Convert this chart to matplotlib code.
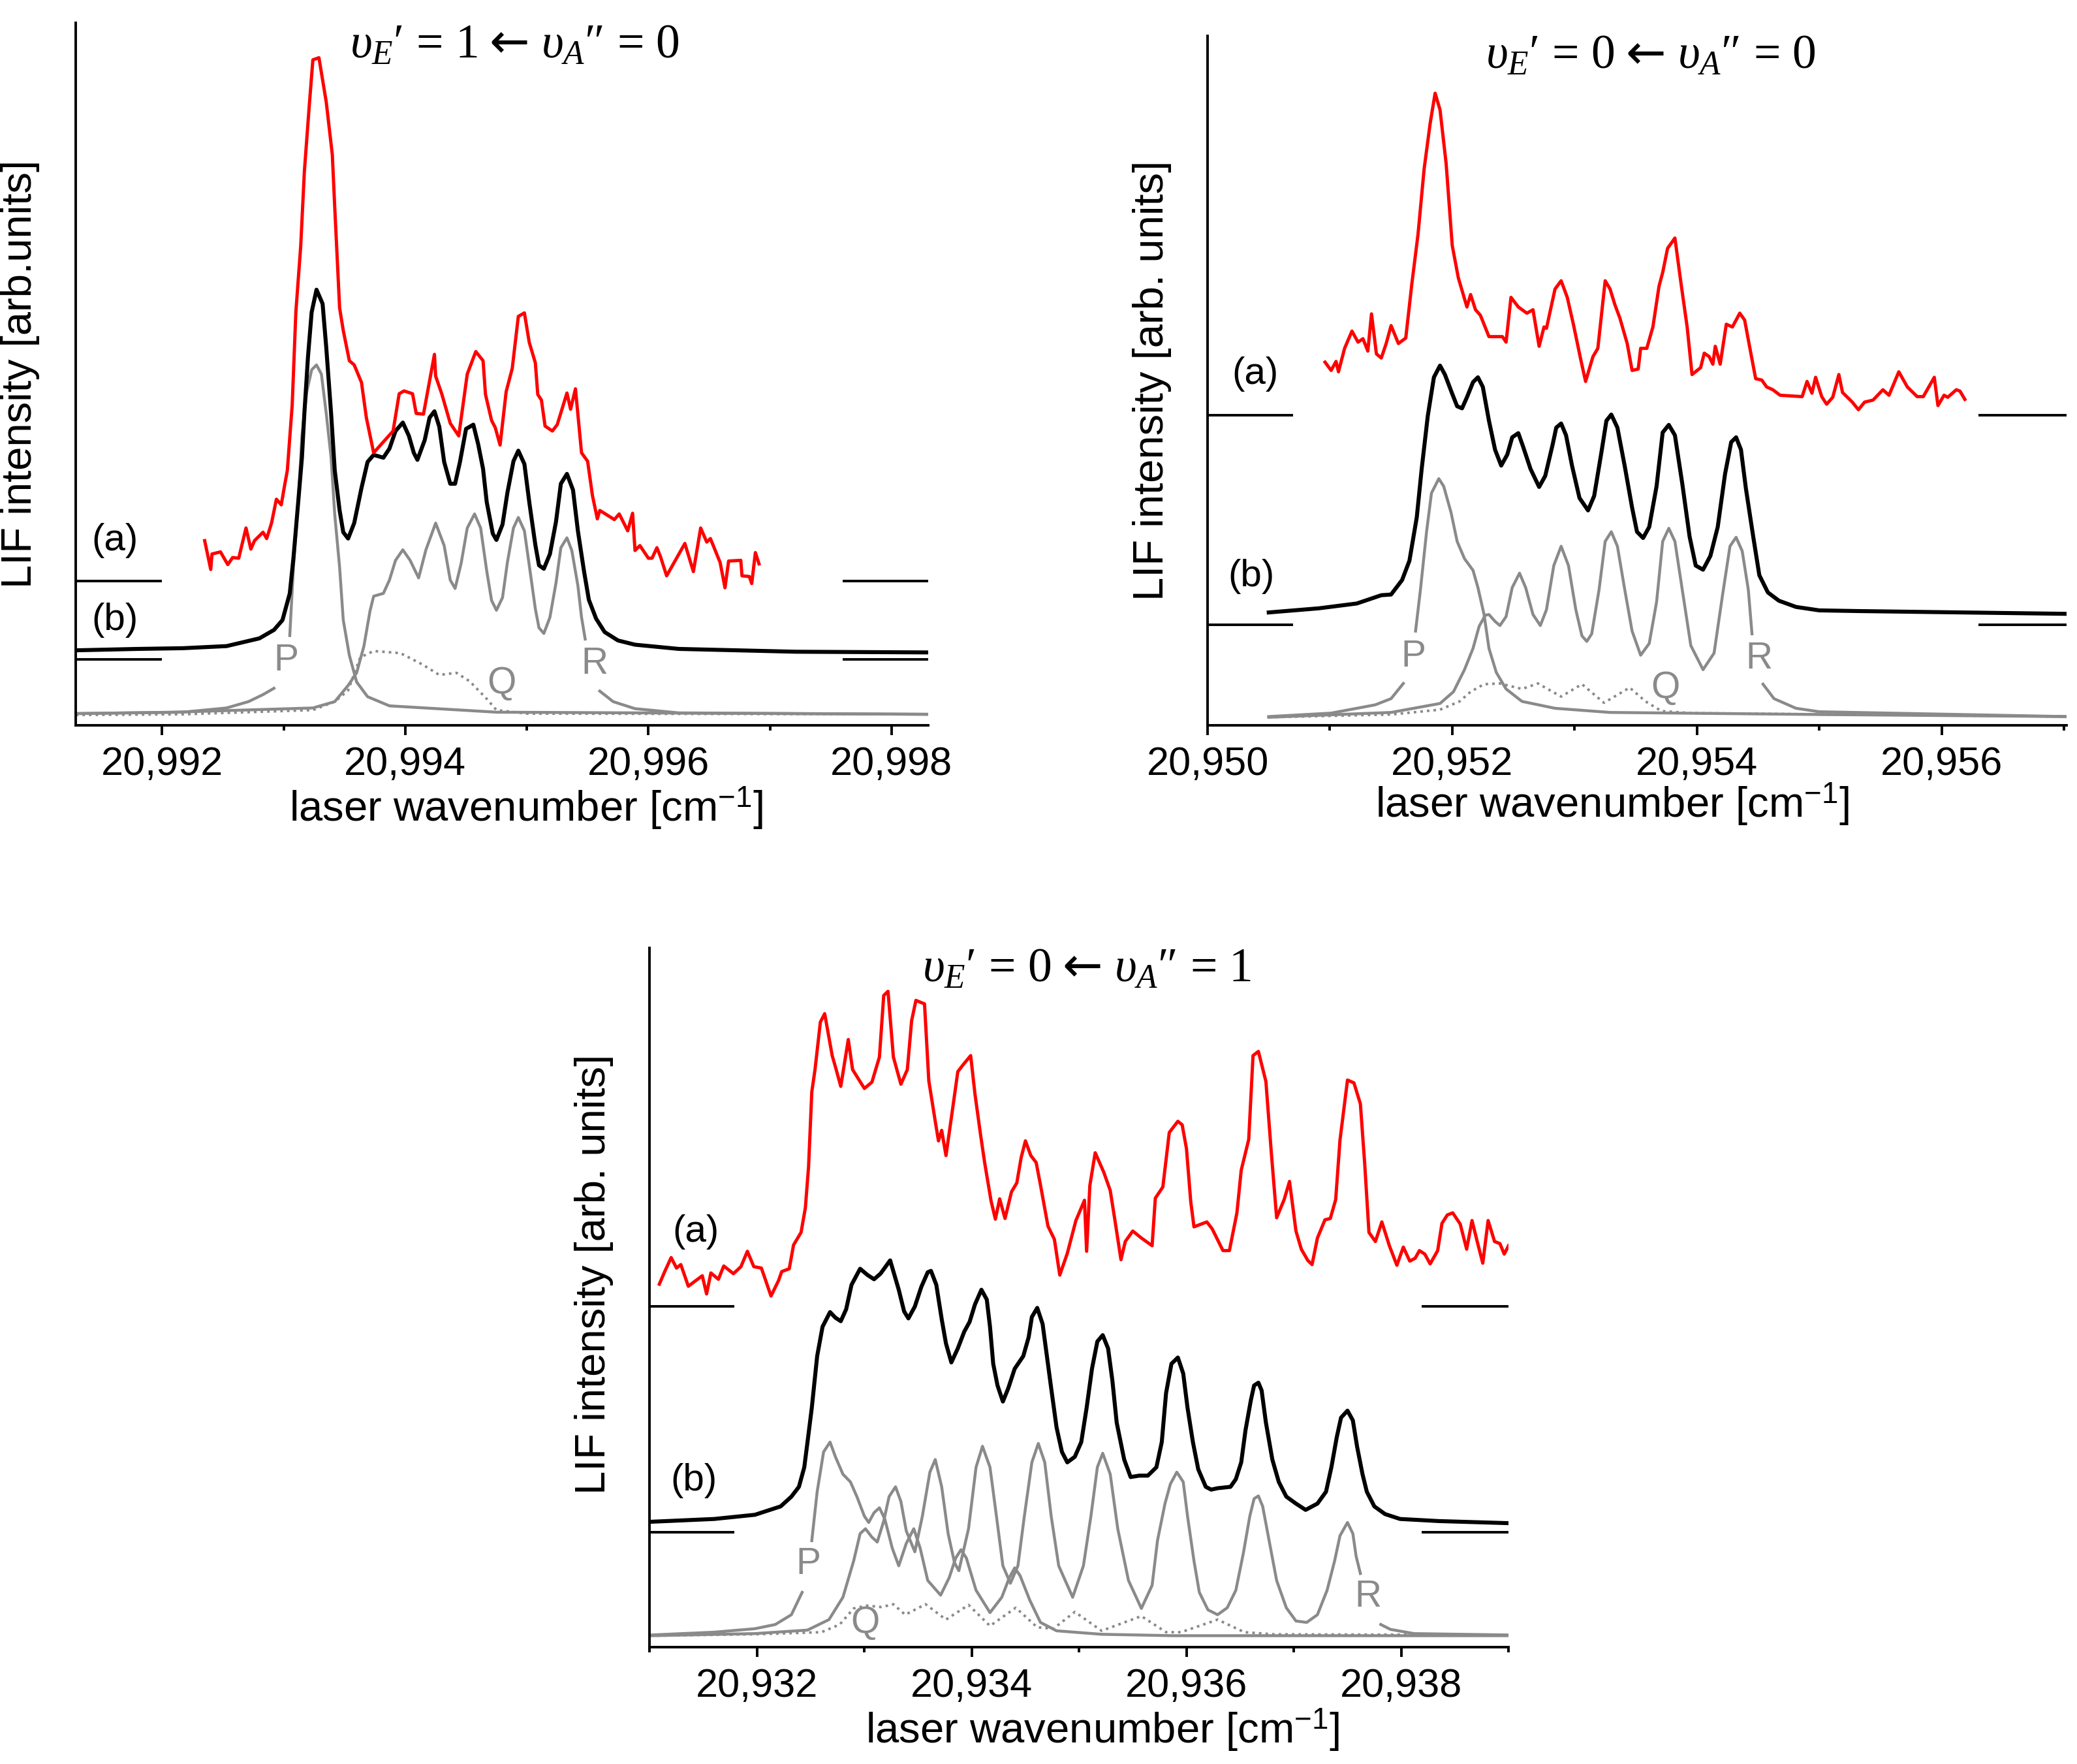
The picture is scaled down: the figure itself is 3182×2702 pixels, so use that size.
import numpy as np
import matplotlib
matplotlib.use("Agg")
import matplotlib.pyplot as plt

plt.rcParams['font.family'] = ['Liberation Sans', 'DejaVu Sans']
plt.rcParams['mathtext.fontset'] = 'custom'
plt.rcParams['mathtext.rm'] = 'Liberation Serif'
plt.rcParams['mathtext.it'] = 'Liberation Serif:italic'
plt.rcParams['mathtext.sf'] = 'Liberation Sans'

nan = np.nan

# ---------------- Panel 1 : vE'=1 <- vA''=0 ----------------
p1_title = ("$\\mathit{υ}_{\\mathit{E}}$\u2032 = 1", "$\\mathit{υ}_{\\mathit{A}}$\u2033 = 0")
p1_xlim = (20991.29, 20998.30)
p1_major = [20992, 20994, 20996, 20998]
p1_major_labels = ["20,992", "20,994", "20,996", "20,998"]
p1_minor = [20993, 20995, 20997]
p1_base_a = 20.6
p1_base_b = 9.4
p1_seg_x = [(20991.29, 20992.0), (20997.6, 20998.30)]

p1_red_x = [20992.35, 20992.40, 20992.41, 20992.48, 20992.54, 20992.58, 20992.63, 20992.69, 20992.73,
            20992.76, 20992.83, 20992.86, 20992.90, 20992.94, 20992.98, 20993.01, 20993.03, 20993.07,
            20993.10, 20993.14, 20993.17, 20993.21, 20993.24, 20993.29, 20993.35, 20993.40, 20993.42,
            20993.46, 20993.49, 20993.54, 20993.58, 20993.64, 20993.68, 20993.74, 20993.90, 20993.95,
            20993.99, 20994.06, 20994.09, 20994.15, 20994.24, 20994.25, 20994.30, 20994.37, 20994.44,
            20994.51, 20994.58, 20994.64, 20994.66, 20994.71, 20994.74, 20994.78, 20994.83, 20994.88,
            20994.93, 20994.98, 20995.02, 20995.07, 20995.09, 20995.12, 20995.15, 20995.21, 20995.25,
            20995.33, 20995.36, 20995.40, 20995.45, 20995.50, 20995.54, 20995.58, 20995.60, 20995.72,
            20995.76, 20995.83, 20995.87, 20995.89, 20995.93, 20996.00, 20996.03, 20996.07, 20996.10,
            20996.15, 20996.30, 20996.37, 20996.43, 20996.48, 20996.51, 20996.59, 20996.63, 20996.66,
            20996.76, 20996.77, 20996.83, 20996.85, 20996.88, 20996.91]
p1_red_y = [26.3, 22.2, 24.4, 24.7, 22.9, 23.9, 23.8, 28.1, 25.1,
            26.3, 27.5, 26.6, 28.8, 32.2, 31.4, 34.4, 36.3, 45.6,
            58.8, 68.2, 78.8, 88.1, 94.7, 95.0, 88.7, 81.2, 73.7,
            59.4, 56.2, 51.9, 51.3, 48.8, 43.8, 38.8, 41.9, 47.2,
            47.6, 47.2, 44.4, 44.3, 52.8, 49.7, 47.2, 43.0, 41.2,
            50.0, 53.2, 51.9, 47.1, 43.4, 42.4, 39.9, 47.5, 50.8,
            58.2, 58.7, 54.5, 51.6, 47.1, 46.3, 42.6, 41.9, 42.8,
            47.3, 45.0, 47.9, 38.8, 37.6, 32.7, 29.4, 30.6, 29.3,
            30.1, 27.7, 30.2, 24.9, 25.6, 23.8, 23.8, 25.3, 24.0,
            21.3, 25.9, 21.9, 28.1, 26.1, 26.6, 23.2, 19.6, 23.4,
            23.5, 21.3, 21.2, 20.2, 24.6, 23.0]

p1_black_x = [20991.29, 20991.80, 20992.17, 20992.53, 20992.80, 20992.92, 20992.99, 20993.05, 20993.08,
              20993.12, 20993.15, 20993.17, 20993.20, 20993.23, 20993.27, 20993.32, 20993.35, 20993.39,
              20993.42, 20993.46, 20993.49, 20993.53, 20993.58, 20993.64, 20993.69, 20993.74, 20993.82,
              20993.87, 20993.92, 20993.98, 20994.03, 20994.07, 20994.10, 20994.16, 20994.20, 20994.24,
              20994.28, 20994.32, 20994.37, 20994.41, 20994.45, 20994.50, 20994.56, 20994.60, 20994.64,
              20994.67, 20994.72, 20994.75, 20994.80, 20994.84, 20994.89, 20994.93, 20994.98, 20995.02,
              20995.07, 20995.10, 20995.14, 20995.19, 20995.24, 20995.28, 20995.33, 20995.38, 20995.42,
              20995.47, 20995.51, 20995.57, 20995.64, 20995.75, 20995.89, 20996.25, 20997.21, 20998.30]
p1_black_y = [10.7, 10.9, 11.0, 11.3, 12.4, 13.6, 15.0, 18.8, 23.8,
              31.9, 38.1, 44.4, 52.5, 58.8, 62.0, 60.0, 53.8, 44.4,
              36.3, 30.6, 27.5, 26.6, 28.8, 33.8, 37.5, 38.5, 38.1,
              39.4, 41.9, 43.1, 41.2, 38.8, 37.8, 40.6, 43.8, 44.7,
              42.5, 37.5, 34.4, 34.4, 37.5, 42.2, 42.8, 40.0, 36.5,
              31.8, 27.3, 26.4, 28.6, 33.1, 37.6, 39.1, 37.2, 31.8,
              25.7, 22.8, 22.3, 24.4, 29.0, 34.4, 35.8, 33.5, 27.7,
              22.0, 17.9, 15.2, 13.3, 12.1, 11.5, 10.9, 10.5, 10.4]

p1_P_x = [20991.29, 20992.17, 20992.53, 20992.71, 20992.83, 20992.92, nan,
          20993.05, 20993.08, 20993.12, 20993.15, 20993.19, 20993.23, 20993.27, 20993.31, 20993.35,
          20993.39, 20993.42, 20993.46, 20993.49, 20993.54, 20993.60, 20993.69, 20993.87, 20994.75,
          20998.30]
p1_P_y = [1.7, 1.9, 2.5, 3.4, 4.4, 5.3, nan,
          12.8, 22.5, 31.9, 41.2, 47.5, 50.6, 51.3, 50.0, 44.4,
          38.1, 30.0, 22.5, 15.0, 10.0, 6.2, 4.1, 2.8, 1.9,
          1.6]

p1_R_x = [20991.29, 20992.10, 20993.24, 20993.42, 20993.53, 20993.60, 20993.66, 20993.71, 20993.74,
          20993.82, 20993.87, 20993.92, 20993.98, 20994.04, 20994.11, 20994.17, 20994.25, 20994.32,
          20994.37, 20994.41, 20994.46, 20994.51, 20994.57, 20994.62, 20994.67, 20994.71, 20994.75,
          20994.80, 20994.84, 20994.89, 20994.93, 20994.98, 20995.02, 20995.07, 20995.10, 20995.14,
          20995.19, 20995.24, 20995.28, 20995.33, 20995.37, 20995.42, 20995.45, 20995.48, nan,
          20995.60, 20995.71, 20995.89, 20996.25, 20998.30]
p1_R_y = [1.7, 1.9, 2.5, 3.4, 5.7, 7.5, 11.3, 16.3, 18.4,
          18.8, 20.7, 23.5, 25.0, 23.5, 21.0, 25.0, 28.8, 25.6,
          20.7, 19.5, 23.1, 28.1, 30.1, 28.1, 22.0, 17.8, 16.4,
          18.2, 23.2, 28.1, 29.6, 27.7, 22.8, 16.6, 13.9, 13.1,
          15.4, 20.3, 25.3, 26.7, 24.9, 19.9, 15.4, 12.3, nan,
          4.9, 3.4, 2.4, 1.8, 1.6]

p1_Q_x = [20991.29, 20992.17, 20993.24, 20993.42, 20993.53, 20993.63, 20993.74, 20993.96, 20994.14,
          20994.28, 20994.42, 20994.53, 20994.67, 20994.75, 20995.00, 20998.30]
p1_Q_y = [1.5, 1.6, 2.2, 3.4, 5.0, 9.7, 10.6, 10.3, 8.7,
          7.2, 7.5, 6.3, 3.8, 2.2, 1.7, 1.6]

p1_lab_ab = [("(a)", 20991.61, 26.3), ("(b)", 20991.61, 15.0)]
p1_lab_pqr = [("P", 20993.02, 9.2), ("Q", 20994.79, 6.0), ("R", 20995.56, 8.8)]

# ---------------- Panel 2 : vE'=0 <- vA''=0 ----------------
p2_title = ("$\\mathit{υ}_{\\mathit{E}}$\u2032 = 0", "$\\mathit{υ}_{\\mathit{A}}$\u2033 = 0")
p2_xlim = (20950.0, 20957.02)
p2_major = [20950, 20952, 20954, 20956]
p2_major_labels = ["20,950", "20,952", "20,954", "20,956"]
p2_minor = [20951, 20953, 20955, 20957]
p2_base_a = 45.0
p2_base_b = 14.6
p2_seg_x = [(20950.0, 20950.70), (20956.30, 20957.02)]

p2_red_x = [20950.96, 20951.01, 20951.05, 20951.07, 20951.12, 20951.18, 20951.23, 20951.27, 20951.31,
            20951.34, 20951.38, 20951.42, 20951.46, 20951.50, 20951.56, 20951.62, 20951.67, 20951.72,
            20951.77, 20951.82, 20951.86, 20951.90, 20951.95, 20952.00, 20952.05, 20952.12, 20952.15,
            20952.19, 20952.23, 20952.30, 20952.41, 20952.44, 20952.48, 20952.54, 20952.61, 20952.66,
            20952.71, 20952.75, 20952.77, 20952.84, 20952.89, 20952.94, 20952.99, 20953.05, 20953.09,
            20953.15, 20953.19, 20953.25, 20953.29, 20953.33, 20953.37, 20953.43, 20953.47, 20953.52,
            20953.54, 20953.59, 20953.64, 20953.69, 20953.72, 20953.76, 20953.82, 20953.87, 20953.92,
            20953.96, 20954.03, 20954.06, 20954.10, 20954.13, 20954.15, 20954.19, 20954.24, 20954.29,
            20954.35, 20954.39, 20954.43, 20954.48, 20954.53, 20954.57, 20954.62, 20954.68, 20954.86,
            20954.90, 20954.94, 20954.97, 20955.02, 20955.06, 20955.11, 20955.16, 20955.19, 20955.27,
            20955.32, 20955.37, 20955.44, 20955.52, 20955.57, 20955.65, 20955.72, 20955.80, 20955.85,
            20955.94, 20955.97, 20956.02, 20956.05, 20956.12, 20956.15, 20956.19]
p2_red_y = [52.7, 51.5, 52.8, 51.3, 54.7, 57.2, 55.6, 56.1, 54.3,
            59.7, 53.9, 53.3, 55.4, 58.0, 55.4, 56.2, 64.1, 71.2,
            80.7, 87.4, 91.7, 89.3, 81.5, 69.6, 64.9, 60.7, 62.5,
            60.3, 59.5, 56.4, 56.4, 55.6, 62.1, 60.7, 59.8, 60.3,
            55.0, 57.8, 57.6, 63.3, 64.5, 62.1, 58.2, 53.1, 49.9,
            53.5, 54.7, 64.5, 63.3, 61.0, 59.1, 55.4, 51.5, 51.7,
            54.7, 54.7, 57.8, 63.7, 65.7, 69.2, 70.7, 64.1, 57.8,
            50.9, 51.9, 54.0, 53.5, 52.4, 55.0, 52.4, 58.2, 57.8,
            59.8, 58.8, 55.0, 50.3, 50.1, 49.1, 48.7, 47.9, 47.7,
            49.9, 48.2, 50.5, 47.7, 46.6, 47.6, 50.9, 48.3, 46.9,
            45.8, 46.9, 47.2, 48.7, 47.9, 51.3, 49.1, 47.7, 47.7,
            50.5, 46.4, 47.9, 47.6, 48.7, 48.5, 47.3]

p2_black_x = [20950.50, 20950.91, 20951.22, 20951.42, 20951.50, 20951.59, 20951.65, 20951.71, 20951.75,
              20951.80, 20951.85, 20951.90, 20951.94, 20952.00, 20952.04, 20952.08, 20952.12, 20952.17,
              20952.21, 20952.25, 20952.30, 20952.35, 20952.40, 20952.45, 20952.49, 20952.54, 20952.58,
              20952.64, 20952.71, 20952.76, 20952.82, 20952.85, 20952.89, 20952.93, 20952.98, 20953.04,
              20953.11, 20953.16, 20953.22, 20953.26, 20953.30, 20953.35, 20953.41, 20953.47, 20953.51,
              20953.56, 20953.61, 20953.67, 20953.72, 20953.77, 20953.82, 20953.88, 20953.94, 20953.99,
              20954.05, 20954.11, 20954.17, 20954.23, 20954.28, 20954.32, 20954.36, 20954.40, 20954.46,
              20954.51, 20954.58, 20954.67, 20954.81, 20955.00, 20955.32, 20957.02]
p2_black_y = [16.4, 17.0, 17.7, 18.9, 19.0, 21.1, 23.9, 30.2, 37.2,
              44.9, 50.5, 52.2, 50.9, 48.1, 46.3, 46.0, 47.6, 49.8,
              50.5, 49.1, 44.2, 40.0, 37.7, 39.3, 41.8, 42.4, 40.4,
              37.2, 34.6, 36.2, 40.7, 43.2, 43.8, 42.1, 37.6, 33.0,
              31.2, 33.3, 39.7, 44.2, 45.1, 43.2, 37.6, 31.6, 28.1,
              27.2, 28.8, 34.7, 42.5, 43.6, 42.1, 35.1, 27.4, 23.2,
              22.6, 24.6, 28.8, 36.5, 41.1, 41.8, 40.0, 34.4, 27.4,
              21.8, 19.3, 18.1, 17.2, 16.7, 16.6, 16.2]

p2_P_x = [20950.50, 20951.01, 20951.37, 20951.50, 20951.60, nan,
          20951.70, 20951.74, 20951.79, 20951.83, 20951.89, 20951.93, 20951.99, 20952.04, 20952.10,
          20952.17, 20952.21, 20952.26, 20952.30, 20952.36, 20952.44, 20952.57, 20952.84, 20953.29,
          20955.00, 20957.02]
p2_P_y = [1.3, 1.8, 3.0, 3.9, 6.1, nan,
          13.7, 19.7, 28.1, 33.7, 35.8, 34.7, 30.9, 26.7, 24.2,
          22.5, 20.0, 16.1, 11.2, 7.7, 5.3, 3.5, 2.5, 1.9,
          1.6, 1.3]

p2_R_x = [20950.50, 20951.50, 20951.90, 20952.01, 20952.10, 20952.17, 20952.22, 20952.27, 20952.30,
          20952.35, 20952.39, 20952.44, 20952.49, 20952.55, 20952.60, 20952.66, 20952.72, 20952.77,
          20952.83, 20952.89, 20952.95, 20953.01, 20953.06, 20953.10, 20953.14, 20953.20, 20953.25,
          20953.30, 20953.35, 20953.41, 20953.47, 20953.54, 20953.61, 20953.67, 20953.72, 20953.77,
          20953.82, 20953.88, 20953.95, 20954.05, 20954.14, 20954.21, 20954.27, 20954.32, 20954.37,
          20954.42, 20954.45, nan, 20954.54, 20954.63, 20954.81, 20955.00, 20957.02]
p2_R_y = [1.2, 1.9, 3.2, 4.9, 8.1, 11.2, 14.4, 16.0, 16.1,
          15.1, 14.5, 15.8, 20.0, 22.1, 20.0, 16.1, 14.5, 16.8,
          23.2, 26.0, 23.2, 16.8, 13.0, 12.2, 13.3, 19.7, 26.7,
          28.1, 26.0, 19.7, 13.7, 10.2, 11.9, 17.9, 26.7, 28.6,
          26.7, 19.7, 11.6, 8.1, 10.5, 19.0, 26.0, 27.3, 25.3,
          19.7, 13.3, nan, 6.0, 3.9, 2.5, 2.0, 1.3]

p2_Q_x = [20950.50, 20951.50, 20951.90, 20952.06, 20952.15, 20952.26, 20952.39, 20952.57, 20952.70,
          20952.89, 20953.06, 20953.24, 20953.45, 20953.58, 20953.71, 20953.96, 20957.02]
p2_Q_y = [1.2, 1.6, 2.3, 3.5, 4.9, 6.0, 6.1, 5.3, 6.1,
          4.2, 6.0, 3.3, 5.5, 3.5, 2.1, 1.8, 1.3]

p2_lab_ab = [("(a)", 20950.39, 51.0), ("(b)", 20950.36, 21.6)]
p2_lab_pqr = [("P", 20951.68, 10.0), ("Q", 20953.74, 5.4), ("R", 20954.51, 9.7)]

# ---------------- Panel 3 : vE'=0 <- vA''=1 ----------------
p3_title = ("$\\mathit{υ}_{\\mathit{E}}$\u2032 = 0", "$\\mathit{υ}_{\\mathit{A}}$\u2033 = 1")
p3_xlim = (20931.0, 20939.0)
p3_major = [20932, 20934, 20936, 20938]
p3_major_labels = ["20,932", "20,934", "20,936", "20,938"]
p3_minor = [20931, 20933, 20935, 20937, 20939]
p3_base_a = 48.7
p3_base_b = 16.4
p3_seg_x = [(20931.0, 20931.79), (20938.19, 20939.0)]

p3_red_x = [20931.09, 20931.14, 20931.20, 20931.25, 20931.29, 20931.36, 20931.42, 20931.49, 20931.53,
            20931.57, 20931.64, 20931.69, 20931.78, 20931.85, 20931.91, 20931.97, 20932.04, 20932.07,
            20932.13, 20932.20, 20932.23, 20932.30, 20932.34, 20932.41, 20932.45, 20932.48, 20932.51,
            20932.54, 20932.59, 20932.63, 20932.70, 20932.73, 20932.78, 20932.85, 20932.89, 20933.00,
            20933.07, 20933.14, 20933.18, 20933.22, 20933.27, 20933.34, 20933.40, 20933.44, 20933.48,
            20933.56, 20933.60, 20933.66, 20933.69, 20933.72, 20933.76, 20933.82, 20933.87, 20933.92,
            20933.99, 20934.03, 20934.08, 20934.12, 20934.18, 20934.22, 20934.26, 20934.31, 20934.37,
            20934.42, 20934.46, 20934.50, 20934.55, 20934.60, 20934.64, 20934.71, 20934.77, 20934.82,
            20934.89, 20934.97, 20935.05, 20935.07, 20935.10, 20935.15, 20935.23, 20935.29, 20935.33,
            20935.39, 20935.43, 20935.50, 20935.58, 20935.68, 20935.71, 20935.78, 20935.84, 20935.92,
            20935.96, 20936.00, 20936.04, 20936.07, 20936.19, 20936.24, 20936.34, 20936.40, 20936.47,
            20936.51, 20936.58, 20936.62, 20936.67, 20936.74, 20936.79, 20936.84, 20936.91, 20936.96,
            20937.02, 20937.07, 20937.13, 20937.17, 20937.22, 20937.29, 20937.34, 20937.39, 20937.43,
            20937.50, 20937.56, 20937.62, 20937.66, 20937.70, 20937.76, 20937.82, 20937.89, 20937.96,
            20938.02, 20938.08, 20938.13, 20938.17, 20938.22, 20938.27, 20938.34, 20938.38, 20938.43,
            20938.48, 20938.55, 20938.61, 20938.66, 20938.71, 20938.76, 20938.81, 20938.87, 20938.92,
            20938.96, 20939.00]
p3_red_y = [51.9, 53.7, 55.7, 54.2, 54.7, 51.6, 52.3, 53.1, 50.5,
            53.5, 52.6, 54.5, 53.4, 54.4, 56.6, 54.4, 54.2, 52.9,
            50.2, 52.4, 53.7, 54.1, 57.5, 59.3, 62.8, 68.7, 79.4,
            82.6, 89.4, 90.6, 84.6, 83.0, 80.2, 86.9, 82.6, 79.9,
            80.8, 84.4, 93.2, 93.8, 84.4, 80.5, 82.6, 89.6, 92.5,
            92.0, 81.0, 75.2, 72.4, 73.9, 70.3, 76.8, 82.3, 83.3,
            84.6, 79.1, 73.5, 69.3, 63.8, 61.2, 64.1, 61.3, 65.1,
            66.4, 70.0, 72.4, 70.3, 69.3, 66.1, 60.2, 58.3, 53.2,
            56.3, 61.0, 63.9, 56.6, 66.0, 70.7, 67.9, 65.3, 61.4,
            55.4, 58.0, 59.5, 58.5, 57.4, 64.2, 65.8, 73.6, 75.2,
            74.7, 71.3, 63.7, 60.1, 60.8, 59.8, 56.7, 56.7, 62.1,
            68.2, 72.6, 84.6, 85.2, 80.9, 70.8, 61.4, 64.0, 66.6,
            59.5, 56.9, 55.3, 54.7, 58.5, 61.1, 61.3, 64.0, 72.5,
            81.1, 80.7, 77.7, 69.2, 59.3, 58.0, 60.8, 57.4, 54.6,
            57.2, 55.2, 55.6, 56.7, 56.2, 54.8, 56.7, 60.6, 61.8,
            62.1, 60.5, 56.9, 61.0, 57.9, 54.9, 61.0, 58.0, 57.7,
            56.2, 57.4]

p3_black_x = [20931.01, 20931.60, 20931.98, 20932.12, 20932.22, 20932.32, 20932.39, 20932.44, 20932.47,
              20932.51, 20932.56, 20932.61, 20932.68, 20932.73, 20932.78, 20932.83, 20932.88, 20932.96,
              20933.03, 20933.09, 20933.15, 20933.24, 20933.32, 20933.37, 20933.41, 20933.47, 20933.53,
              20933.59, 20933.62, 20933.67, 20933.72, 20933.76, 20933.81, 20933.87, 20933.93, 20933.98,
              20934.03, 20934.09, 20934.14, 20934.17, 20934.20, 20934.24, 20934.29, 20934.34, 20934.40,
              20934.48, 20934.53, 20934.56, 20934.61, 20934.66, 20934.70, 20934.74, 20934.79, 20934.84,
              20934.89, 20934.96, 20935.02, 20935.07, 20935.12, 20935.17, 20935.22, 20935.27, 20935.31,
              20935.35, 20935.42, 20935.48, 20935.56, 20935.64, 20935.72, 20935.77, 20935.81, 20935.86,
              20935.92, 20935.97, 20936.01, 20936.06, 20936.11, 20936.18, 20936.23, 20936.29, 20936.41,
              20936.46, 20936.51, 20936.55, 20936.60, 20936.63, 20936.67, 20936.70, 20936.74, 20936.80,
              20936.86, 20936.93, 20937.02, 20937.11, 20937.22, 20937.30, 20937.35, 20937.40, 20937.44,
              20937.50, 20937.55, 20937.59, 20937.64, 20937.68, 20937.75, 20937.85, 20937.99, 20938.35,
              20939.00]
p3_black_y = [17.9, 18.3, 18.9, 19.6, 20.1, 21.5, 22.9, 25.7, 29.3,
              34.2, 41.6, 45.8, 47.9, 47.1, 46.6, 48.3, 51.8, 54.1,
              53.2, 52.6, 53.4, 55.3, 51.1, 48.0, 47.0, 48.7, 51.5,
              53.6, 53.8, 51.8, 46.9, 43.4, 40.7, 42.7, 45.1, 46.5,
              49.0, 51.1, 49.7, 45.8, 40.5, 37.4, 35.1, 37.0, 39.8,
              41.6, 44.3, 47.2, 48.5, 46.2, 41.6, 37.0, 31.4, 27.9,
              26.4, 27.2, 29.3, 34.2, 39.8, 43.7, 44.6, 42.7, 38.1,
              32.1, 26.8, 24.3, 24.5, 24.5, 25.7, 29.3, 36.3, 40.5,
              41.4, 39.1, 34.2, 29.3, 25.4, 22.9, 22.5, 22.7, 22.9,
              24.0, 26.4, 31.0, 35.3, 37.4, 37.8, 36.7, 32.1, 26.8,
              23.6, 21.5, 20.5, 19.6, 20.5, 22.2, 25.7, 30.0, 32.8,
              33.8, 32.4, 28.6, 24.7, 22.2, 20.1, 19.0, 18.3, 18.0,
              17.7]

p3_P_x = [20931.01, 20931.60, 20931.98, 20932.17, 20932.32, 20932.42, nan,
          20932.51, 20932.56, 20932.62, 20932.68, 20932.73, 20932.80, 20932.87, 20932.93, 20933.00,
          20933.04, 20933.09, 20933.14, 20933.19, 20933.26, 20933.32, 20933.39, 20933.46, 20933.52,
          20933.59, 20933.71, 20933.79, 20933.85, 20933.90, 20933.95, 20934.04, 20934.17, 20934.28,
          20934.35, 20934.40, 20934.45, 20934.54, 20934.64, 20934.79, 20935.21, 20935.88, 20939.00]
p3_P_y = [1.7, 2.1, 2.6, 3.2, 4.6, 7.8, nan,
          15.2, 22.2, 27.9, 29.3, 27.2, 24.7, 23.6, 21.5, 18.7,
          17.8, 19.2, 19.9, 18.3, 14.1, 11.6, 14.8, 16.9, 14.1,
          9.5, 7.4, 9.9, 12.7, 13.9, 12.7, 8.1, 4.9, 7.1,
          9.9, 11.3, 10.2, 6.7, 3.5, 2.3, 1.8, 1.6, 1.6]

p3_R_x = [20931.01, 20931.98, 20932.47, 20932.67, 20932.80, 20932.90, 20932.96, 20933.01, 20933.07,
          20933.12, 20933.18, 20933.23, 20933.29, 20933.34, 20933.39, 20933.47, 20933.54, 20933.61,
          20933.66, 20933.72, 20933.78, 20933.84, 20933.88, 20933.97, 20934.04, 20934.10, 20934.17,
          20934.23, 20934.29, 20934.36, 20934.43, 20934.49, 20934.56, 20934.62, 20934.68, 20934.74,
          20934.81, 20934.94, 20935.04, 20935.11, 20935.17, 20935.22, 20935.29, 20935.36, 20935.46,
          20935.58, 20935.68, 20935.73, 20935.80, 20935.85, 20935.91, 20935.97, 20936.01, 20936.07,
          20936.12, 20936.20, 20936.29, 20936.38, 20936.46, 20936.53, 20936.59, 20936.63, 20936.67,
          20936.71, 20936.77, 20936.84, 20936.93, 20937.02, 20937.12, 20937.22, 20937.31, 20937.38,
          20937.43, 20937.50, 20937.55, 20937.58, 20937.62, nan, 20937.81, 20937.90, 20938.12, 20939.00]
p3_R_y = [1.6, 1.9, 2.4, 3.9, 7.1, 12.3, 16.2, 16.9, 15.7,
          15.0, 18.0, 21.5, 22.9, 20.8, 16.6, 13.6, 18.7, 25.0,
          26.8, 22.9, 16.2, 12.0, 10.9, 16.9, 25.7, 28.7, 25.7,
          18.7, 11.6, 9.1, 11.6, 18.7, 26.4, 29.1, 26.4, 18.7,
          11.6, 7.1, 11.6, 18.7, 25.7, 27.7, 24.7, 16.9, 9.5,
          5.5, 8.8, 15.2, 20.5, 23.3, 25.0, 23.6, 18.7, 12.3,
          7.8, 5.3, 4.6, 5.6, 8.1, 13.4, 18.7, 21.2, 21.6,
          20.1, 15.2, 9.5, 5.6, 3.7, 3.5, 4.6, 8.1, 12.3,
          15.9, 17.8, 16.2, 13.0, 10.5, nan, 3.2, 2.5, 1.9, 1.7]

p3_Q_x = [20931.01, 20931.98, 20932.60, 20932.77, 20932.90, 20933.02, 20933.16, 20933.27, 20933.38,
          20933.57, 20933.76, 20933.97, 20934.17, 20934.41, 20934.61, 20934.76, 20934.96, 20935.21,
          20935.58, 20935.81, 20935.95, 20936.29, 20936.54, 20936.81, 20939.00]
p3_Q_y = [1.6, 1.8, 2.1, 3.2, 5.5, 5.9, 5.7, 6.1, 4.6,
          6.1, 3.9, 6.0, 3.0, 5.6, 2.8, 2.6, 5.0, 2.3,
          4.4, 2.1, 2.1, 3.9, 2.1, 1.8, 1.7]

p3_lab_ab = [("(a)", 20931.43, 59.4), ("(b)", 20931.41, 23.8)]
p3_lab_pqr = [("P", 20932.48, 11.8), ("Q", 20933.01, 3.4), ("R", 20937.69, 7.2)]

# ---------------- figure ----------------
W, H = 3182, 2702
fig = plt.figure(figsize=(W / 100, H / 100), dpi=100)

RED = '#ff0000'
GRAY = '#8a8a8a'
FS_TICK = 44
FS_LABEL = 47
FS_AB = 42
FS_PQR = 41
FS_TITLE = 53
SERIF = ['Liberation Serif', 'DejaVu Serif']

panels = [
    dict(rect=[0.0365, 0.5887, 0.4103, 0.3985], title=p1_title, xlim=p1_xlim, major=p1_major,
         major_labels=p1_major_labels, minor=p1_minor, base_a=p1_base_a, base_b=p1_base_b, seg_x=p1_seg_x,
         red=(p1_red_x, p1_red_y), black=(p1_black_x, p1_black_y), P=(p1_P_x, p1_P_y),
         R=(p1_R_x, p1_R_y), Q=(p1_Q_x, p1_Q_y), lab_ab=p1_lab_ab, lab_pqr=p1_lab_pqr,
         ylabel="LIF intensity [arb.units]", title_xy=(0.515, 0.950), xlabel_x=0.528, ylabel_y=0.5,
         xlabel_y=-0.085),
    dict(rect=[0.5814, 0.5887, 0.4135, 0.3909], title=p2_title, xlim=p2_xlim, major=p2_major,
         major_labels=p2_major_labels, minor=p2_minor, base_a=p2_base_a, base_b=p2_base_b, seg_x=p2_seg_x,
         red=(p2_red_x, p2_red_y), black=(p2_black_x, p2_black_y), P=(p2_P_x, p2_P_y),
         R=(p2_R_x, p2_R_y), Q=(p2_Q_x, p2_Q_y), lab_ab=p2_lab_ab, lab_pqr=p2_lab_pqr,
         ylabel="LIF intensity [arb. units]", title_xy=(0.516, 0.953), xlabel_x=0.471, ylabel_y=0.5,
         xlabel_y=-0.081),
    dict(rect=[0.3128, 0.0664, 0.4135, 0.3962], title=p3_title, xlim=p3_xlim, major=p3_major,
         major_labels=p3_major_labels, minor=p3_minor, base_a=p3_base_a, base_b=p3_base_b, seg_x=p3_seg_x,
         red=(p3_red_x, p3_red_y), black=(p3_black_x, p3_black_y), P=(p3_P_x, p3_P_y),
         R=(p3_R_x, p3_R_y), Q=(p3_Q_x, p3_Q_y), lab_ab=p3_lab_ab, lab_pqr=p3_lab_pqr,
         ylabel="LIF intensity [arb. units]", title_xy=(0.509, 0.952), xlabel_x=0.527, ylabel_y=0.533,
         xlabel_y=-0.086),
]

renderer = fig.canvas.get_renderer()


def draw_title(ax, xc, yb, left, right):
    kw = dict(transform=ax.transAxes, fontsize=FS_TITLE, ha='left', va='baseline')
    t1 = ax.text(0, yb, left, family=SERIF, **kw)
    t2 = ax.text(0, yb, "\u2190", family=['DejaVu Sans'], **kw)
    t3 = ax.text(0, yb, right, family=SERIF, **kw)
    ws = [t.get_window_extent(renderer).width for t in (t1, t2, t3)]
    gap = 0.24 * FS_TITLE * fig.dpi / 72.0
    axw = ax.get_window_extent(renderer).width
    total = sum(ws) + 2 * gap
    x0 = xc - total / 2.0 / axw
    t1.set_x(x0)
    t2.set_x(x0 + (ws[0] + gap) / axw)
    t3.set_x(x0 + (ws[0] + ws[1] + 2 * gap) / axw)


for p in panels:
    ax = fig.add_axes(p['rect'])
    ax.set_xlim(*p['xlim'])
    ax.set_ylim(0, 100)
    for s in ('top', 'right'):
        ax.spines[s].set_visible(False)
    for s in ('left', 'bottom'):
        ax.spines[s].set_linewidth(2.8)
    ax.set_yticks([])
    ax.set_xticks(p['major'], p['major_labels'])
    ax.set_xticks(p['minor'], minor=True)
    ax.tick_params(axis='x', which='major', direction='out', length=11, width=2.8,
                   labelsize=FS_TICK, pad=12)
    ax.tick_params(axis='x', which='minor', direction='out', length=6, width=2.8)

    # baseline marks
    for (x0, x1) in p['seg_x']:
        for yb in (p['base_a'], p['base_b']):
            ax.plot([x0, x1], [yb, yb], color='black', lw=2.8, solid_capstyle='butt', clip_on=False)

    ax.plot(*p['Q'], color=GRAY, lw=2.8, linestyle=(0, (1, 1.6)))
    ax.plot(*p['P'], color=GRAY, lw=3.2)
    ax.plot(*p['R'], color=GRAY, lw=3.2)
    ax.plot(*p['black'], color='black', lw=4.4)
    ax.plot(*p['red'], color=RED, lw=3.6)

    for t, x, y in p['lab_ab']:
        ax.text(x, y, t, fontsize=FS_AB, ha='center', va='center', color='black')
    for t, x, y in p['lab_pqr']:
        ax.text(x, y, t, fontsize=FS_PQR, ha='center', va='center', color=GRAY)

    draw_title(ax, p['title_xy'][0], p['title_xy'][1], p['title'][0], p['title'][1])

    ax.set_xlabel(r"laser wavenumber [cm$^{\mathsf{-1}}$]", fontsize=FS_LABEL)
    ax.xaxis.set_label_coords(p['xlabel_x'], p['xlabel_y'])
    ax.set_ylabel(p['ylabel'], fontsize=FS_LABEL)
    ax.yaxis.set_label_coords(-0.042, p['ylabel_y'])

fig.savefig("out.png", dpi=100)
